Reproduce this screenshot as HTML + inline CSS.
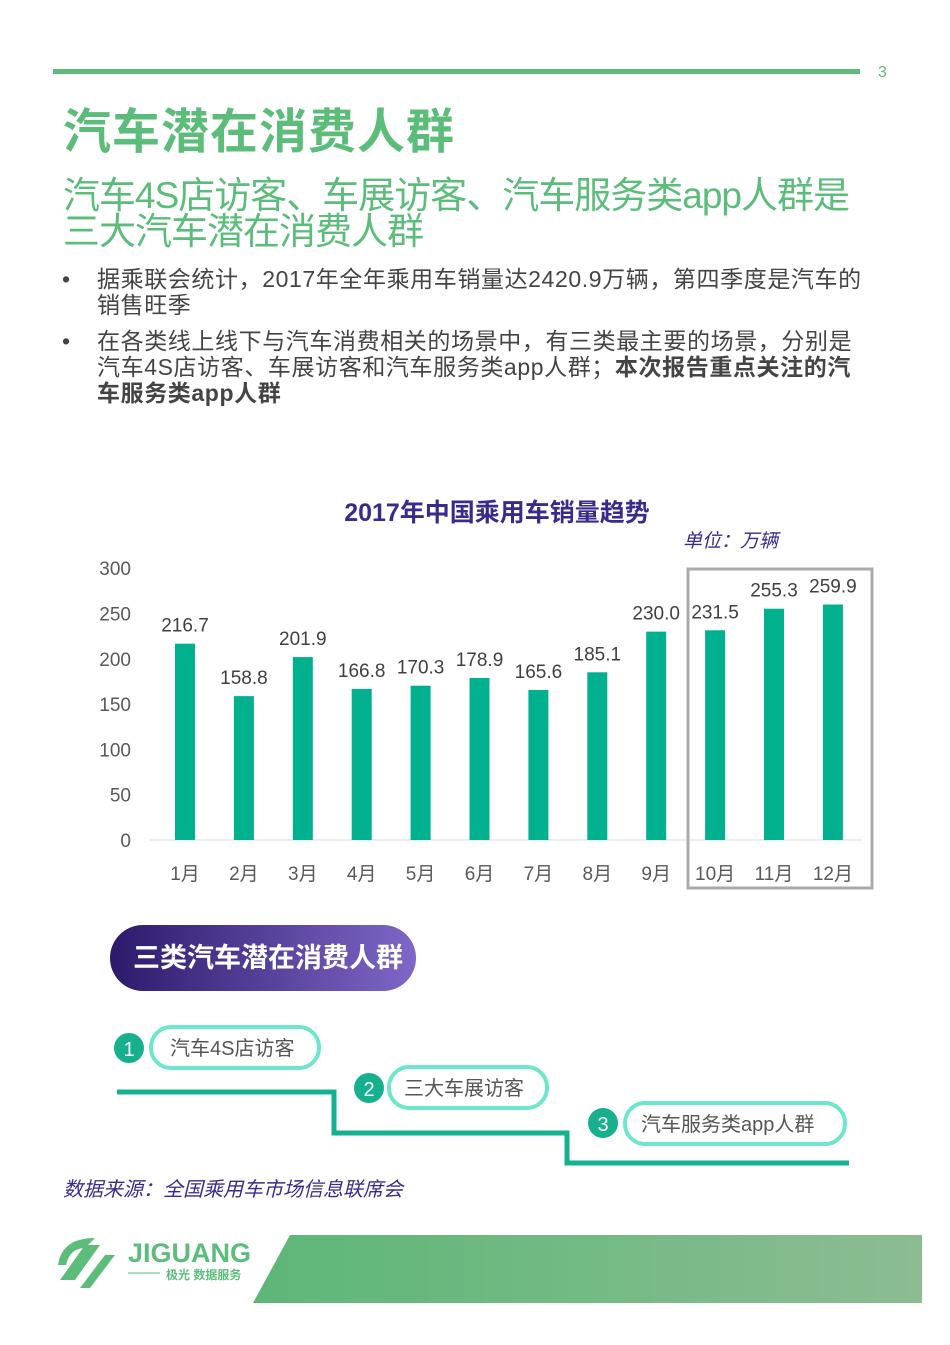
<!DOCTYPE html>
<html><head><meta charset="utf-8"><style>
body{margin:0;width:950px;height:1345px;background:#fff;position:relative;overflow:hidden;font-family:"Liberation Sans","Noto Sans CJK SC",sans-serif}
.a{position:absolute}
</style></head><body>
<div class="a" style="left:53px;top:69px;width:807px;height:5px;background:#5cbd7b"></div>
<div class="a" style="left:878px;top:64px;font-size:16px;color:#5cbd7b">3</div>
<div class="a" style="left:63px;top:92px;font-size:48px;font-weight:bold;color:#5cbd7b;letter-spacing:1px">汽车潜在消费人群</div>
<div class="a" style="left:63px;top:178px;font-size:37px;line-height:36px;color:#5cbd7b;width:880px;letter-spacing:-1px;white-space:nowrap">汽车4S店访客、车展访客、汽车服务类app人群是<br>三大汽车潜在消费人群</div>
<div class="a" style="left:62px;top:266px;font-size:23px;line-height:26px;color:#444;width:850px;white-space:nowrap;letter-spacing:0.6px"><span style="position:absolute;left:0">•</span><div style="margin-left:35px">据乘联会统计，2017年全年乘用车销量达2420.9万辆，第四季度是汽车的<br>销售旺季</div></div>
<div class="a" style="left:62px;top:328px;font-size:23px;line-height:26px;color:#444;width:850px;white-space:nowrap;letter-spacing:0.6px"><span style="position:absolute;left:0">•</span><div style="margin-left:35px">在各类线上线下与汽车消费相关的场景中，有三类最主要的场景，分别是<br>汽车4S店访客、车展访客和汽车服务类app人群；<b>本次报告重点关注的汽<br>车服务类app人群</b></div></div>

<svg class="a" style="left:0;top:480px" width="950" height="430">
<text x="497" y="41" text-anchor="middle" font-size="25" font-weight="bold" fill="#3b2a8c">2017年中国乘用车销量趋势</text>
<text x="683" y="67" font-size="19" font-style="italic" fill="#3b2a8c">单位：万辆</text>
<g id="g"></g>
<rect x="688" y="89" width="184" height="319" fill="none" stroke="#aaa" stroke-width="3"/>
</svg>

<div class="a" style="left:110px;top:925px;width:306px;height:66px;border-radius:33px;background:linear-gradient(90deg,#2d1a6b,#7e67c7);color:#fff;font-size:27px;font-weight:bold;line-height:66px;text-indent:23px">三类汽车潜在消费人群</div>

<svg class="a" style="left:0;top:1010px" width="950" height="170">
<polyline points="117,82 334,82 334,123 567,123 567,153 849,153" fill="none" stroke="#16b08e" stroke-width="5"/>
<g><circle cx="129" cy="38" r="15" fill="#16b08e"/><text x="129" y="46" text-anchor="middle" font-size="20" fill="#fff">1</text>
<rect x="151" y="17" width="168" height="41" rx="20" fill="#fff" stroke="#6de6cc" stroke-width="4"/><text x="170" y="45" font-size="20" fill="#555">汽车4S店访客</text></g>
<g><circle cx="369" cy="78" r="15" fill="#16b08e"/><text x="369" y="86" text-anchor="middle" font-size="20" fill="#fff">2</text>
<rect x="389" y="57" width="158" height="41" rx="20" fill="#fff" stroke="#6de6cc" stroke-width="4"/><text x="404" y="85" font-size="20" fill="#555">三大车展访客</text></g>
<g><circle cx="603" cy="113" r="15" fill="#16b08e"/><text x="603" y="121" text-anchor="middle" font-size="20" fill="#fff">3</text>
<rect x="625" y="93" width="220" height="41" rx="20" fill="#fff" stroke="#6de6cc" stroke-width="4"/><text x="641" y="121" font-size="20" fill="#555">汽车服务类app人群</text></g>
</svg>
<div class="a" style="left:63px;top:1173px;font-size:20px;font-style:italic;color:#3b2a8c">数据来源：全国乘用车市场信息联席会</div>

<svg class="a" style="left:0;top:1230px" width="950" height="80">
<defs><linearGradient id="fg" x1="0" x2="1"><stop offset="0" stop-color="#5cb777"/><stop offset="1" stop-color="#8cbc92"/></linearGradient></defs>
<polygon points="290,5 922,5 922,73 253,73" fill="url(#fg)"/>
<g fill="#5cbd7b">
<path d="M60,50 L85,15 L100,15 L75,50Z M80,58 L105,25 L115,25 L90,58Z M58,35 Q62,8 95,8 L85,18 Q70,18 66,35Z"/>
<text x="128" y="32" font-size="27" font-weight="bold">JIGUANG</text>
<line x1="128" y1="43" x2="160" y2="43" stroke="#5cbd7b"/><text x="166" y="49" font-size="12" font-weight="bold">极光 数据服务</text></g>
</svg>

<script>
const months=["1月","2月","3月","4月","5月","6月","7月","8月","9月","10月","11月","12月"];
const sales=[216.7,158.8,201.9,166.8,170.3,178.9,165.6,185.1,230.0,231.5,255.3,259.9];
const ticks=[0,50,100,150,200,250,300];
const g=document.getElementById('g');const NS='http://www.w3.org/2000/svg';
const y=v=>360-v*0.906, x=i=>185+i*58.9;
function mk(t,a,txt){const e=document.createElementNS(NS,t);for(const k in a)e.setAttribute(k,a[k]);if(txt!=null)e.textContent=txt;g.appendChild(e);return e;}
ticks.forEach(t=>{const e=mk('text',{x:131,y:y(t)+7,'text-anchor':'end','font-size':19,fill:'#595959'},t);

});
const ax=mk('line',{x1:150,x2:862,y1:360,y2:360,stroke:'#ddd','stroke-width':1});


sales.forEach((v,i)=>{
const b=mk('rect',{x:x(i)-10,y:y(v),width:20,height:v*0.906,fill:'#00b08e'});


const l=mk('text',{x:x(i),y:y(v)-12,'text-anchor':'middle','font-size':19,fill:'#404040'},v.toFixed(1));


const m=mk('text',{x:x(i),y:400,'text-anchor':'middle','font-size':19,fill:'#595959'},months[i]);


});
</script>
</body></html>
